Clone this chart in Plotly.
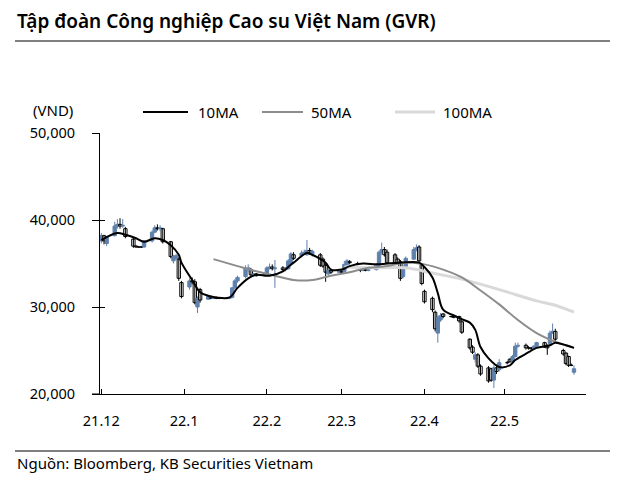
import pandas as pd
import plotly.graph_objects as go

# ---- data (VND), one value per trading day, Dec 1 2021 - May 27 2022 ----
dates = pd.bdate_range("2021-12-01", "2022-05-27")

opens = [
    # Dec
    37600, 38200, 37300, 38200, 39300, 39500, 39300, 39000, 37800, 37000, 36900, 36900,
    36900, 37600, 38600, 39100, 39000, 39000, 37500, 35300, 35600, 35500, 32800,
    # Jan
    32300, 33000, 32900, 30000, 32000, 30900, 31200, 31000, 31100, 31000, 31000, 31000,
    31100, 32200, 33000, 33500, 34400, 34300, 33700, 33800, 33600,
    # Feb
    33800, 34500, 34600, 34400, 34500, 34300, 34400, 35000, 36000, 35900, 36200, 36000,
    36500, 36000, 36000, 35500, 34800, 33800, 34200, 34000,
    # Mar
    34100, 34100, 34900, 35200, 35000, 34500, 34200, 34300, 34200, 34300, 34800, 36300,
    36600, 36300, 36000, 35500, 35200, 33500, 34600, 35500, 36600, 36900, 34900,
    # Apr
    31800, 31000, 29400, 27000, 28500, 29200, 28900, 28900, 28800, 28900, 28300, 26300,
    25400, 24000, 24500, 23200, 23000, 22900, 21600, 23000, 22800,
    # May
    23600, 24000, 23700, 24300, 25500, 25600, 25300, 25300, 25200, 25500, 25900, 25500,
    25800, 27000, 27200, 25000, 24700, 24300, 23300, 22500,
]
highs = [
    38500, 38300, 38100, 39800, 40100, 40200, 40100, 39200, 38000, 37100, 37000, 37000,
    37700, 38800, 39400, 39500, 39400, 39100, 37600, 36000, 36100, 35700, 33000,
    33300, 33400, 33200, 31200, 32200, 31400, 31300, 31200, 31200, 31100, 31100, 31100,
    32300, 33200, 33600, 34800, 34900, 34500, 33900, 33900, 33800,
    34700, 35000, 34900, 35400, 34700, 34600, 35500, 36300, 36300, 36500, 36600, 37700,
    36800, 36600, 36200, 35700, 35000, 34400, 34400, 34300,
    34300, 35300, 35500, 35400, 35200, 34600, 34400, 34400, 34400, 35000, 36500, 37400,
    36900, 36600, 36200, 35700, 35400, 34800, 35800, 36900, 37200, 37100, 35000,
    32000, 31200, 29600, 29000, 29300, 29300, 29000, 29000, 29000, 29000, 28500, 26400,
    25600, 24800, 24700, 23400, 23200, 23000, 23300, 23400, 24000,
    23800, 24100, 24500, 25900, 25900, 25800, 25500, 25400, 25600, 26000, 26000, 25700,
    27300, 28100, 27500, 25200, 24800, 24400, 23500, 23300,
]
lows = [
    37300, 37200, 37000, 38100, 39000, 39000, 39100, 37900, 36800, 36800, 36800, 36800,
    36800, 37400, 38500, 38800, 38700, 37300, 35600, 35000, 35400, 33000, 31000,
    32000, 32600, 30300, 29300, 30500, 30800, 30900, 30900, 30900, 30900, 30900, 30900,
    31000, 32000, 32800, 33300, 34000, 33500, 33500, 33500, 33500,
    33700, 34300, 34200, 32200, 34100, 34100, 34300, 34900, 35400, 35700, 36000, 35900,
    36000, 35800, 34600, 34500, 32900, 33600, 33800, 33900,
    33900, 34000, 34700, 34900, 34800, 34000, 34100, 34100, 34100, 34200, 34700, 36000,
    35800, 35000, 35000, 34900, 33000, 33300, 34500, 35400, 36400, 35000, 32500,
    30400, 29400, 27200, 25900, 28300, 28700, 28800, 28700, 28700, 28200, 26900, 25100,
    24600, 23600, 23000, 22100, 21300, 21400, 20700, 22300, 22600,
    23400, 23600, 23600, 24200, 25300, 25100, 25100, 25000, 25100, 25300, 25300, 24500,
    25600, 26900, 26100, 24400, 23300, 23100, 23200, 22200,
]
closes = [
    38200, 37600, 38000, 39300, 39500, 39300, 39400, 38100, 37000, 36900, 36900, 36900,
    37600, 38600, 39100, 39000, 39100, 37500, 35800, 35800, 35900, 33300, 31200,
    33000, 32900, 30500, 31000, 30800, 31200, 31000, 31100, 31000, 31000, 31000, 31100,
    32200, 33000, 33400, 34400, 34500, 33700, 33800, 33600, 33700,
    34500, 34600, 34400, 34500, 34300, 34400, 35300, 36100, 35600, 36200, 36300, 36500,
    36200, 36400, 34800, 34700, 34000, 34200, 34000, 34100,
    34000, 34900, 35300, 35100, 35000, 34200, 34300, 34200, 34300, 34800, 36300, 36600,
    36000, 35100, 35100, 35000, 33300, 34600, 35600, 36600, 36800, 35300, 32700,
    30600, 29700, 27500, 28800, 29000, 28900, 28900, 28800, 28900, 28400, 27100, 25300,
    24800, 24500, 23200, 22300, 21500, 21600, 23000, 22600, 23600,
    23600, 23700, 24300, 25500, 25600, 25300, 25300, 25200, 25500, 25900, 25400, 25300,
    27000, 27200, 26300, 24600, 23500, 23300, 23300, 22900,
]

# moving averages
ma10_dates = ["2021-12-01", "2021-12-07", "2021-12-10", "2021-12-14", "2021-12-17",
              "2021-12-21", "2021-12-24", "2021-12-27", "2021-12-30", "2021-12-31",
              "2022-01-04", "2022-01-07", "2022-01-10", "2022-01-13", "2022-01-18",
              "2022-01-21", "2022-01-25", "2022-01-28", "2022-02-02", "2022-02-07",
              "2022-02-09", "2022-02-11", "2022-02-16", "2022-02-18", "2022-02-23",
              "2022-02-25", "2022-03-01", "2022-03-04", "2022-03-09", "2022-03-14",
              "2022-03-18", "2022-03-23", "2022-03-30", "2022-04-01", "2022-04-04",
              "2022-04-06", "2022-04-08", "2022-04-13", "2022-04-15", "2022-04-18",
              "2022-04-20", "2022-04-22", "2022-04-25", "2022-04-29", "2022-05-03",
              "2022-05-05", "2022-05-10", "2022-05-13", "2022-05-18", "2022-05-20",
              "2022-05-24", "2022-05-27"]
ma10 = [37700, 38500, 38300, 37900, 37500, 37900, 37700, 37100, 36000, 35100,
        33100, 31700, 31300, 31100, 31100, 32200, 33300, 33700, 33600, 34100,
        34600, 35100, 36200, 36000, 35100, 34300, 34300, 34700, 35000, 34900,
        35000, 35100, 35100, 34600, 33400, 31600, 29700, 28900, 28600, 28200,
        27400, 25400, 24100, 23100, 23300, 23900, 24800, 25300, 25600, 25900,
        25600, 25300]

ma50_dates = ["2022-01-12", "2022-01-21", "2022-01-28", "2022-02-04", "2022-02-11",
              "2022-02-18", "2022-02-25", "2022-03-04", "2022-03-11", "2022-03-18",
              "2022-03-25", "2022-04-01", "2022-04-08", "2022-04-15", "2022-04-22",
              "2022-04-29", "2022-05-06", "2022-05-13", "2022-05-20", "2022-05-27"]
ma50 = [35500, 34700, 34100, 33600, 33100, 33100, 33600, 34000, 34500, 34700,
        35100, 34900, 34300, 33400, 31900, 30300, 28500, 27000, 26000, 25300]

ma100_dates = ["2022-03-02", "2022-03-11", "2022-03-25", "2022-04-04", "2022-04-15",
               "2022-04-29", "2022-05-13", "2022-05-20", "2022-05-27"]
ma100 = [34600, 34500, 34500, 33900, 33200, 32000, 30700, 30200, 29400]

tick_dates = ["2021-12-01", "2022-01-01", "2022-02-01", "2022-03-01", "2022-04-01", "2022-05-01"]
tick_labels = ["21.12", "22.1", "22.2", "22.3", "22.4", "22.5"]

title_text = "Tập đoàn Công nghiệp Cao su Việt Nam (GVR)"
source_text = "Nguồn: Bloomberg, KB Securities Vietnam"
legend_names = ["10MA", "50MA", "100MA"]

assert len(dates) == len(opens) == len(highs) == len(lows) == len(closes)

FONT = "Noto Sans"
BLUE = "#5F80AC"
ma_colors = ["#000000", "#8C8C8C", "#D9D9D9"]
ma_widths = [2, 2, 3]

up = [c > o for o, c in zip(opens, closes)]

fig = go.Figure()
# candle wicks (drawn first, bodies cover them)
for is_up, col in [(True, BLUE), (False, "#000000")]:
    wx, wy = [], []
    for d, h, l, u in zip(dates, highs, lows, up):
        if u == is_up:
            wx += [d, d, None]
            wy += [l, h, None]
    fig.add_trace(go.Scatter(x=wx, y=wy, mode="lines", line=dict(color=col, width=1),
                             showlegend=False, hoverinfo="skip"))
# candle bodies
fig.add_trace(go.Bar(
    x=dates,
    base=[min(o, c) for o, c in zip(opens, closes)],
    y=[abs(c - o) for o, c in zip(opens, closes)],
    width=1.25 * 86400000,
    marker=dict(color=[BLUE if u else "#FFFFFF" for u in up],
                line=dict(color=[BLUE if u else "#000000" for u in up], width=1)),
    showlegend=False, hoverinfo="skip",
))
for xs, ys, c, w in [(ma100_dates, ma100, ma_colors[2], ma_widths[2]),
                     (ma50_dates, ma50, ma_colors[1], ma_widths[1]),
                     (ma10_dates, ma10, ma_colors[0], ma_widths[0])]:
    fig.add_trace(go.Scatter(x=pd.to_datetime(xs), y=ys, mode="lines",
                             line=dict(color=c, width=w, shape="spline", smoothing=1.0),
                             showlegend=False, hoverinfo="skip"))

# page is rendered with an 8px body margin, so the figure is offset by 8px
OFF = 8
W, H = 618 - OFF, 478 - OFF
PL, PR, PT, PB = 100, 586, 133, 394          # plot box in page pixels
L, R, T, B = PL - OFF, W - (PR - OFF), PT - OFF, H - (PB - OFF)
pw, ph = PR - PL, PB - PT


def px(x):
    return (x - PL) / pw


def py(y):
    return (PB - y) / ph


shapes = [
    dict(type="line", xref="paper", yref="paper", x0=px(15), x1=px(612), y0=py(41), y1=py(41),
         line=dict(color="#000000", width=1.2)),
    dict(type="line", xref="paper", yref="paper", x0=px(15), x1=px(612), y0=py(451), y1=py(451),
         line=dict(color="#000000", width=1.2)),
    dict(type="line", xref="paper", yref="paper", x0=px(92), x1=px(100), y0=0, y1=0,
         line=dict(color="#000000", width=1)),
]
annotations = [
    dict(text=title_text, xref="paper", yref="paper", x=px(15), y=py(21), xanchor="left",
         yanchor="middle", showarrow=False,
         font=dict(family=FONT, size=19, color="#000", weight=600)),
    dict(text="(VND)", xref="paper", yref="paper", x=px(31), y=py(110), xanchor="left",
         yanchor="middle", showarrow=False, font=dict(family=FONT, size=15, color="#000")),
    dict(text=source_text, xref="paper", yref="paper", x=px(15), y=py(463), xanchor="left",
         yanchor="middle", showarrow=False, font=dict(family=FONT, size=15, color="#000")),
]
leg_x = [(143, 188, 196), (262, 303, 309), (395, 435, 441)]
for (a, b, t), name, c, w in zip(leg_x, legend_names, ma_colors, ma_widths):
    shapes.append(dict(type="line", xref="paper", yref="paper", x0=px(a), x1=px(b),
                       y0=py(112), y1=py(112), line=dict(color=c, width=w)))
    annotations.append(dict(text=name, xref="paper", yref="paper", x=px(t), y=py(112),
                            xanchor="left", yanchor="middle", showarrow=False,
                            font=dict(family=FONT, size=15, color="#000")))

fig.update_layout(
    width=W, height=H,
    margin=dict(l=L, r=R, t=T, b=B, pad=0),
    paper_bgcolor="white", plot_bgcolor="white",
    font=dict(family=FONT, size=14, color="#000"),
    shapes=shapes, annotations=annotations,
    showlegend=False, barmode="overlay",
    xaxis=dict(
        type="date", range=["2021-11-30 12:00", "2022-05-31 12:00"],
        rangeslider=dict(visible=False),
        tickvals=pd.to_datetime(tick_dates), ticktext=tick_labels,
        ticks="inside", ticklen=5, tickcolor="#000", tickwidth=1,
        ticklabelstandoff=14,
        showline=True, linecolor="#000", linewidth=1,
        showgrid=False, zeroline=False,
        tickfont=dict(family=FONT, size=14.5, color="#000"),
    ),
    yaxis=dict(
        range=[20000, 50000], dtick=10000, tickformat=",",
        ticks="outside", ticklen=7, tickcolor="#000", tickwidth=1,
        ticklabelstandoff=14,
        showline=True, linecolor="#000", linewidth=1,
        showgrid=False, zeroline=False,
        tickfont=dict(family=FONT, size=14.5, color="#000"),
    ),
    yaxis2=dict(
        overlaying="y", side="left", range=[20000, 50000], dtick=10000,
        ticks="inside", ticklen=5, tickcolor="#000", tickwidth=1,
        showticklabels=False, showline=False, showgrid=False, zeroline=False,
    ),
)
# invisible trace to activate the inner tick marks of the value axis
fig.add_trace(go.Scatter(x=[dates[0]], y=[None], yaxis="y2", showlegend=False,
                         hoverinfo="skip", mode="lines"))

fig.write_html("out.html")
